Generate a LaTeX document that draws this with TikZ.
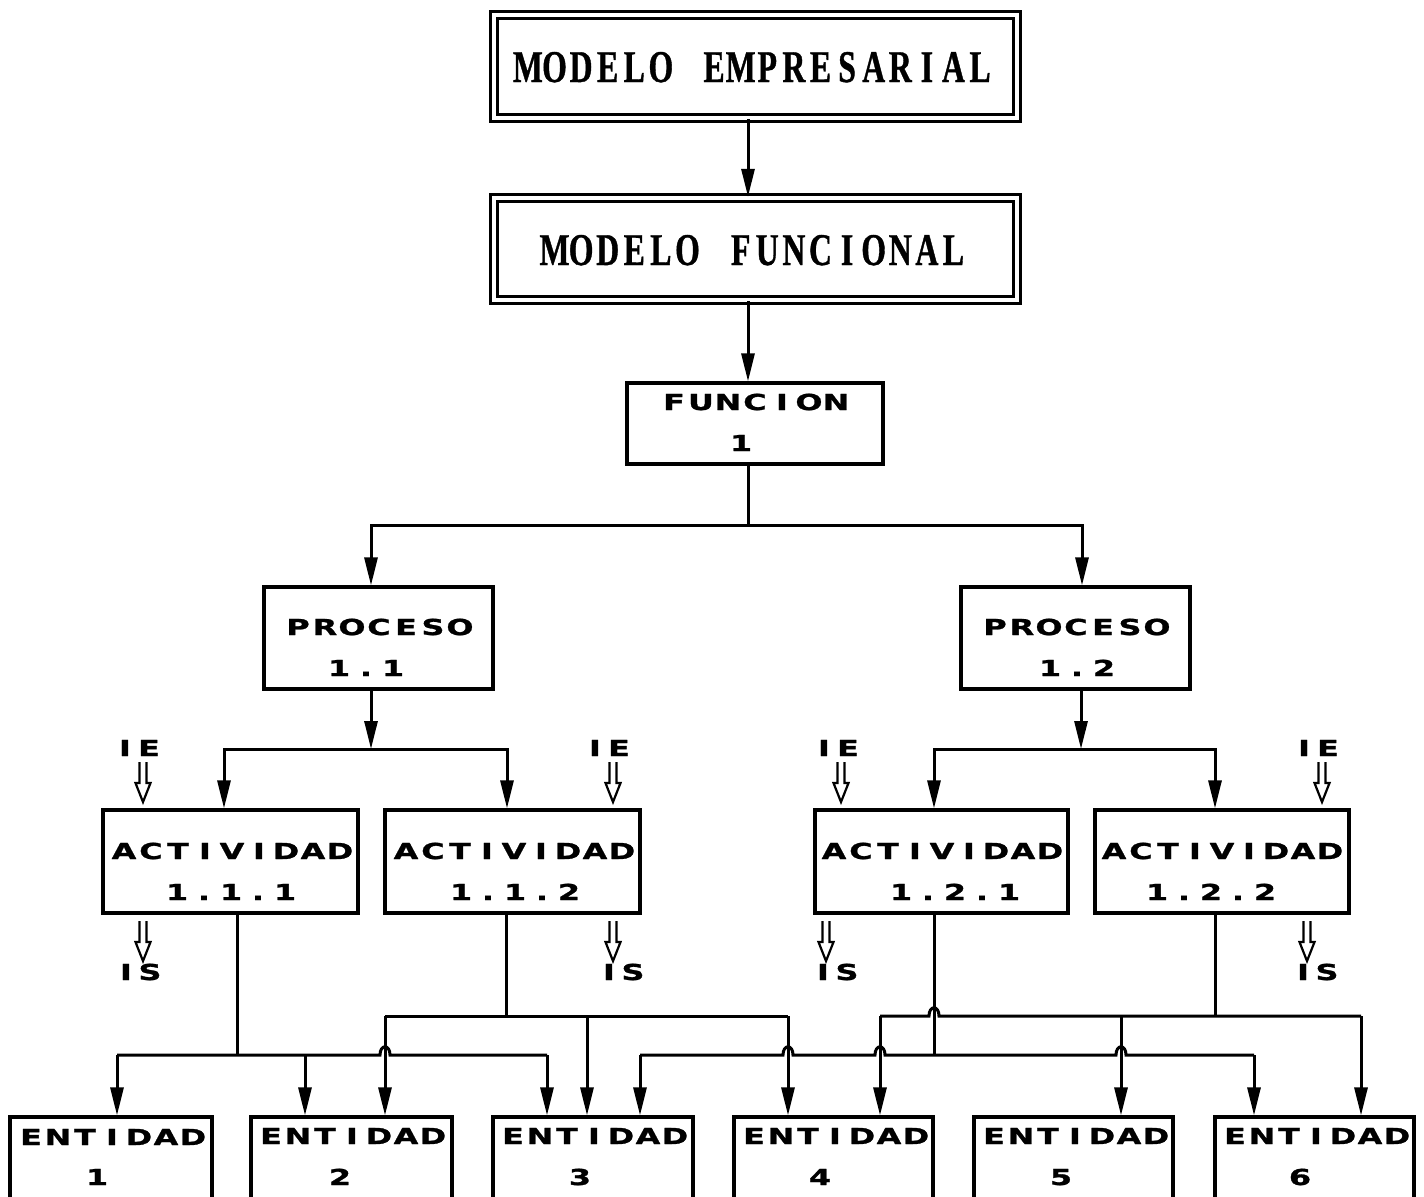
\documentclass[tikz,border=0pt]{standalone}
\usepackage{fontspec}
\usetikzlibrary{arrows.meta}
\newfontfamily\lblfont[FakeStretch=1.45,FakeBold=1.2]{DejaVu Sans Bold}
\newfontfamily\titlefont[FakeStretch=0.7,FakeBold=0.8]{Liberation Serif Bold}
\ExplSyntaxOn
\NewDocumentCommand\grid{O{13.5pt}m}{\tl_map_inline:nn{#2}{\makebox[#1][c]{##1}}}
\ExplSyntaxOff
\tikzset{
  box/.style={draw, line width=1.6pt, rectangle, inner sep=0pt},
  dbox/.style={draw, line width=1.2pt, double, double distance=2.3pt, rectangle, inner sep=0pt},
  conn/.style={line width=1.5pt},
  arr/.style={conn, -{Triangle[length=14pt,width=6.5pt]}},
  lbl/.style={font=\lblfont\fontsize{11}{13}\selectfont, inner sep=0pt, text height=8pt, text depth=0pt},
  ttl/.style={font=\titlefont\fontsize{22.7}{26}\selectfont, inner sep=0pt, text height=15pt, text depth=0pt},
  pics/dbl/.style={code={\draw[line width=1.1pt, line join=miter] (-3.5,0) -- (-3.5,21) -- (-7.5,21) -- (0,40) -- (7.5,21) -- (3.5,21) -- (3.5,0);}}
}
\begin{document}
\begin{tikzpicture}[x=0.5pt, y=-0.5pt]
\useasboundingbox (0,0) rectangle (1424,1196);
\clip (0,0) rectangle (1424,1196);
% top boxes
\node[dbox, minimum width=261.5pt, minimum height=51.5pt] (me) at (755.5,66.5) {};
\node[ttl] (met) at (754,67) {\grid[13.3pt]{MODELO~EMPRESARIAL}};
\node[dbox, minimum width=261.5pt, minimum height=51pt] (mf) at (755.5,249) {};
\node[ttl] (mft) at (754,250) {\grid[13.3pt]{MODELO~FUNCIONAL}};
\node[box, minimum width=128pt, minimum height=40.5pt] (f1) at (755,423.5) {};
\node[lbl] (f1a) at (755,402) {\grid{FUNCION}};
\node[lbl] (f1b) at (741,443) {\grid{1}};
% procesos
\node[box, minimum width=114.5pt, minimum height=51pt] (p11) at (378.5,638) {};
\node[lbl] (p11a) at (379,627) {\grid{PROCESO}};
\node[lbl] (p11b) at (366,668) {\grid{1.1}};
\node[box, minimum width=114.5pt, minimum height=51pt] (p12) at (1075.5,638) {};
\node[lbl] (p12a) at (1076,627) {\grid{PROCESO}};
\node[lbl] (p12b) at (1077,668) {\grid{1.2}};
% actividades
\node[box, minimum width=127.5pt, minimum height=51.5pt] (a111) at (230.5,861.5) {};
\node[lbl] (a111a) at (232,851) {\grid{ACTIVIDAD}};
\node[lbl] (a111b) at (231,892) {\grid{1.1.1}};
\node[box, minimum width=127.5pt, minimum height=51.5pt] (a112) at (512.5,861.5) {};
\node[lbl] (a112a) at (514,851) {\grid{ACTIVIDAD}};
\node[lbl] (a112b) at (515,892) {\grid{1.1.2}};
\node[box, minimum width=126.5pt, minimum height=51.5pt] (a121) at (941.5,861.5) {};
\node[lbl] (a121a) at (942,851) {\grid{ACTIVIDAD}};
\node[lbl] (a121b) at (955,892) {\grid{1.2.1}};
\node[box, minimum width=127pt, minimum height=51.5pt] (a122) at (1222,861.5) {};
\node[lbl] (a122a) at (1222,851) {\grid{ACTIVIDAD}};
\node[lbl] (a122b) at (1211,892) {\grid{1.2.2}};
% IE / IS
\node[lbl] (ie1) at (137,748) {\grid[12pt]{IE}};
\node[lbl] (ie2) at (607,748) {\grid[12pt]{IE}};
\node[lbl] (ie3) at (836,748) {\grid[12pt]{IE}};
\node[lbl] (ie4) at (1316,748) {\grid[12pt]{IE}};
\node[lbl] (is1) at (138,972) {\grid[12pt]{IS}};
\node[lbl] (is2) at (621,972) {\grid[12pt]{IS}};
\node[lbl] (is3) at (835,972) {\grid[12pt]{IS}};
\node[lbl] (is4) at (1315,972) {\grid[12pt]{IS}};
\pic at (143,762) {dbl};
\pic at (613,762) {dbl};
\pic at (841,762) {dbl};
\pic at (1322,762) {dbl};
\pic at (143,921) {dbl};
\pic at (613,921) {dbl};
\pic at (826,921) {dbl};
\pic at (1307,921) {dbl};
% entidades
\node[box, minimum width=101pt, minimum height=46.5pt] (e1) at (111,1163.5) {};
\node[box, minimum width=100.5pt, minimum height=46.5pt] (e2) at (351.5,1163.5) {};
\node[box, minimum width=100pt, minimum height=46.5pt] (e3) at (593,1163.5) {};
\node[box, minimum width=99.5pt, minimum height=46.5pt] (e4) at (833.5,1163.5) {};
\node[box, minimum width=99.5pt, minimum height=46.5pt] (e5) at (1073.5,1163.5) {};
\node[box, minimum width=99.5pt, minimum height=46.5pt] (e6) at (1314.5,1163.5) {};
\node[lbl] (e1a) at (112,1137) {\grid{ENTIDAD}};
\node[lbl] (e2a) at (352,1136) {\grid{ENTIDAD}};
\node[lbl] (e3a) at (594,1136) {\grid{ENTIDAD}};
\node[lbl] (e4a) at (835,1136) {\grid{ENTIDAD}};
\node[lbl] (e5a) at (1075,1136) {\grid{ENTIDAD}};
\node[lbl] (e6a) at (1316,1136) {\grid{ENTIDAD}};
\node[lbl] (e1b) at (97,1177) {\grid{1}};
\node[lbl] (e2b) at (340,1177) {\grid{2}};
\node[lbl] (e3b) at (580,1177) {\grid{3}};
\node[lbl] (e4b) at (820,1177) {\grid{4}};
\node[lbl] (e5b) at (1061,1177) {\grid{5}};
\node[lbl] (e6b) at (1300,1177) {\grid{6}};
% top connectors
\draw[arr] (748,0 |- me.south) -- (748,0 |- mf.north);
\draw[arr] (748,0 |- mf.south) -- (748,0 |- f1.north);
\coordinate (j1) at (748,525);
\draw[conn] (748,0 |- f1.south) -- (j1);
\draw[arr] (j1) -| (371,0 |- p11.north);
\draw[arr] (j1) -| (1082,0 |- p12.north);
\coordinate (j2) at (371,749);
\draw[arr] (371,0 |- p11.south) -- (j2);
\draw[arr] (j2) -| (224,0 |- a111.north);
\draw[arr] (j2) -| (507,0 |- a112.north);
\coordinate (j3) at (1081,749);
\draw[arr] (1081,0 |- p12.south) -- (j3);
\draw[arr] (j3) -| (934,0 |- a121.north);
\draw[arr] (j3) -| (1215,0 |- a122.north);
% bottom connectors: actividad 1.1.1
\coordinate (b1) at (237,1055);
\draw[conn] (237,0 |- a111.south) -- (b1);
\draw[conn] (117,1055) -- (380,1055) .. controls (380,1044) and (390,1044) .. (390,1055) -- (547,1055);
\draw[arr] (117,1055) -- (117,0 |- e1.north);
\draw[arr] (305,1055) -- (305,0 |- e2.north);
\draw[arr] (547,1055) -- (547,0 |- e3.north);
% actividad 1.1.2
\coordinate (b2) at (506,1016);
\draw[conn] (506,0 |- a112.south) -- (b2);
\draw[conn] (385,1016) -- (788,1016);
\draw[arr] (385,1016) -- (385,0 |- e2.north);
\draw[arr] (587,1016) -- (587,0 |- e3.north);
\draw[arr] (788,1016) -- (788,0 |- e4.north);
% actividad 1.2.1
\coordinate (b3) at (934,1055);
\draw[conn] (934,0 |- a121.south) -- (b3);
\draw[conn] (640,1055) -- (783,1055) .. controls (783,1044) and (793,1044) .. (793,1055)
  -- (875,1055) .. controls (875,1044) and (885,1044) .. (885,1055)
  -- (1116,1055) .. controls (1116,1044) and (1126,1044) .. (1126,1055) -- (1254,1055);
\draw[arr] (640,1055) -- (640,0 |- e3.north);
\draw[arr] (1254,1055) -- (1254,0 |- e6.north);
% actividad 1.2.2
\coordinate (b4) at (1215,1016);
\draw[conn] (1215,0 |- a122.south) -- (b4);
\draw[conn] (880,1016) -- (929,1016) .. controls (929,1005) and (939,1005) .. (939,1016) -- (1361,1016);
\draw[arr] (880,1016) -- (880,0 |- e4.north);
\draw[arr] (1121,1016) -- (1121,0 |- e5.north);
\draw[arr] (1361,1016) -- (1361,0 |- e6.north);
\end{tikzpicture}
\end{document}
